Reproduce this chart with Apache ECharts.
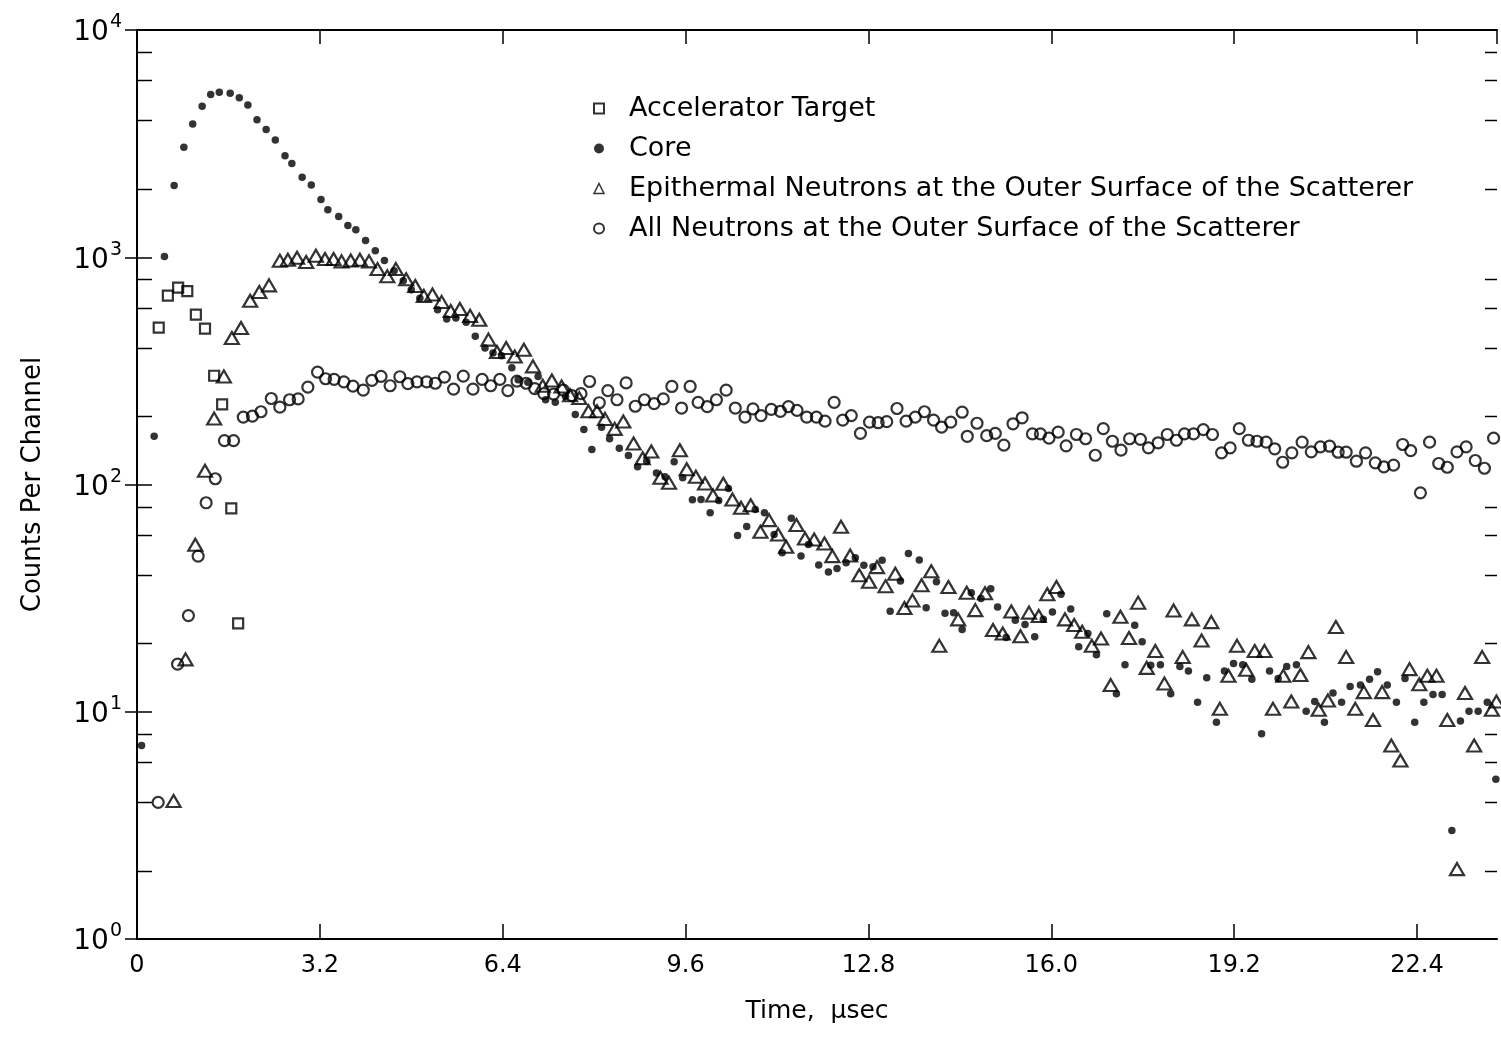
<!DOCTYPE html>
<html>
<head>
<meta charset="utf-8">
<script src="https://cdn.jsdelivr.net/npm/echarts@6/dist/echarts.min.js"></script>
<style>
  html, body { margin: 0; padding: 0; background: #fff; }
  #chart { width: 1501px; height: 1043px; }
</style>
</head>
<body>
<div id="chart"></div>
<script>
// time in usec, counts per channel
var targetData = [
  [0.38, 490], [0.54, 678], [0.72, 735], [0.88, 710], [1.03, 559], [1.19, 485],
  [1.35, 301], [1.49, 225], [1.65, 78.5], [1.77, 24.5]
];

var coreData = [
  [0.08, 7.1], [0.30, 163], [0.48, 1008], [0.65, 2070], [0.82, 3050], [0.975, 3860],
  [1.14, 4620], [1.29, 5200], [1.44, 5320], [1.63, 5270], [1.79, 5030], [1.94, 4680],
  [2.10, 4030], [2.26, 3650], [2.42, 3280], [2.59, 2800], [2.71, 2585], [2.89, 2250],
  [3.05, 2080], [3.22, 1795], [3.34, 1618], [3.53, 1512], [3.69, 1380], [3.83, 1321],
  [4.00, 1186], [4.17, 1069], [4.33, 968], [4.50, 873], [4.66, 788], [4.80, 720],
  [4.95, 660], [5.26, 588], [5.42, 535], [5.58, 540], [5.76, 517], [5.92, 449],
  [6.09, 399], [6.23, 379], [6.38, 369], [6.56, 326], [6.67, 289], [6.84, 282],
  [7.02, 299], [7.15, 236], [7.32, 230], [7.50, 244], [7.67, 203], [7.82, 174.5],
  [7.96, 142.5], [8.13, 178.6], [8.27, 158.9], [8.44, 144.4], [8.60, 134.1], [8.76, 119.6],
  [8.92, 126.6], [9.09, 112.5], [9.24, 108.1], [9.40, 125.9], [9.55, 107], [9.72, 85.7],
  [9.87, 85.8], [10.03, 75.1], [10.18, 85.1], [10.35, 96], [10.51, 59.7], [10.67, 65.4],
  [10.82, 77.7], [10.98, 75.1], [11.15, 60.3], [11.29, 50.1], [11.45, 71.1], [11.62, 48.4],
  [11.75, 54.5], [11.93, 44.2], [12.10, 41.2], [12.25, 42.7], [12.41, 45.3], [12.57, 47.6],
  [12.72, 44.1], [12.88, 43.5], [13.04, 46.4], [13.18, 27.7], [13.36, 37.6], [13.50, 49.7],
  [13.69, 46.5], [13.81, 28.7], [13.99, 37.3], [14.14, 27.1], [14.29, 27.3], [14.44, 23],
  [14.60, 33.4], [14.77, 31.5], [14.94, 34.8], [15.06, 28.9], [15.21, 21.2], [15.37, 25.3],
  [15.54, 24.2], [15.71, 21.4], [15.86, 25.5], [16.02, 27.5], [16.17, 32.9], [16.34, 28.3],
  [16.48, 19.3], [16.64, 22.1], [16.79, 17.8], [16.97, 27], [17.14, 12], [17.29, 16.1],
  [17.46, 24], [17.59, 20.3], [17.74, 16], [17.91, 16.1], [18.09, 12], [18.25, 15.8],
  [18.40, 15.1], [18.56, 11], [18.72, 14.1], [18.89, 9], [19.03, 15.1], [19.19, 16.3],
  [19.35, 16.1], [19.51, 13.9], [19.68, 8], [19.82, 15.1], [19.97, 14], [20.12, 15.8],
  [20.29, 16.1], [20.46, 10.05], [20.61, 11.1], [20.78, 9], [20.93, 12.1], [21.08, 11],
  [21.23, 12.9], [21.41, 13.1], [21.57, 13.9], [21.71, 15], [21.88, 13.1], [22.04, 11],
  [22.19, 14], [22.36, 9], [22.52, 11], [22.68, 11.9], [22.84, 11.9], [23.01, 3],
  [23.16, 9.1], [23.31, 10.05], [23.47, 10.05], [23.63, 11], [23.78, 5.05]
];

var epithermalData = [
  [0.64, 4.05], [0.85, 17], [1.02, 54.3], [1.19, 115], [1.35, 195], [1.52, 299],
  [1.66, 441], [1.82, 488], [1.98, 644], [2.14, 703], [2.31, 752], [2.50, 966],
  [2.64, 975], [2.80, 995], [2.96, 953], [3.13, 1015], [3.29, 983], [3.44, 983],
  [3.58, 959], [3.74, 968], [3.90, 975], [4.06, 959], [4.21, 887], [4.38, 824],
  [4.53, 887], [4.71, 800], [4.87, 747], [5.02, 676], [5.17, 686], [5.33, 636],
  [5.49, 580], [5.65, 592], [5.83, 552], [5.99, 531], [6.15, 434], [6.30, 383],
  [6.46, 399], [6.61, 366], [6.77, 392], [6.93, 331], [7.10, 272], [7.26, 287],
  [7.43, 270], [7.58, 247], [7.74, 240], [7.90, 210], [8.05, 210], [8.19, 194.4],
  [8.36, 175.7], [8.51, 189.2], [8.69, 151.4], [8.85, 130.5], [9.00, 139.7], [9.16, 107],
  [9.31, 101.7], [9.50, 141.4], [9.62, 116.8], [9.78, 108.1], [9.94, 101], [10.08, 89.5],
  [10.26, 100.7], [10.42, 85.9], [10.57, 79], [10.74, 81.1], [10.91, 61.9], [11.06, 69.7],
  [11.22, 60.3], [11.36, 53.2], [11.54, 66.3], [11.69, 57.9], [11.85, 57.3], [12.03, 55],
  [12.17, 48.4], [12.32, 65.2], [12.48, 48.7], [12.64, 39.9], [12.81, 37.3], [12.95, 43.3],
  [13.10, 35.7], [13.27, 40.5], [13.43, 28.6], [13.57, 30.9], [13.73, 36], [13.90, 41.5],
  [14.04, 19.5], [14.20, 35.4], [14.37, 25.5], [14.52, 33.4], [14.67, 28], [14.84, 33.2],
  [14.98, 22.9], [15.15, 22.1], [15.30, 27.6], [15.46, 21.5], [15.61, 27.3], [15.78, 26.4],
  [15.93, 32.9], [16.09, 35.4], [16.24, 25.5], [16.40, 24.1], [16.54, 22.5], [16.71, 19.5],
  [16.87, 21], [17.04, 13.1], [17.21, 26.2], [17.36, 21.1], [17.52, 30.2], [17.67, 15.6],
  [17.82, 18.5], [17.98, 13.3], [18.14, 27.9], [18.30, 17.4], [18.46, 25.5], [18.63, 20.6],
  [18.80, 24.8], [18.95, 10.3], [19.10, 14.4], [19.25, 19.5], [19.41, 15.3], [19.56, 18.5],
  [19.73, 18.5], [19.88, 10.3], [20.06, 14.4], [20.20, 11.1], [20.36, 14.5], [20.50, 18.3],
  [20.68, 10.2], [20.84, 11.2], [20.98, 23.6], [21.16, 17.4], [21.32, 10.3], [21.47, 12.2],
  [21.63, 9.2], [21.79, 12.2], [21.95, 7.1], [22.11, 6.1], [22.27, 15.4], [22.44, 13.2],
  [22.58, 14.4], [22.74, 14.4], [22.93, 9.2], [23.10, 2.03], [23.24, 12.1], [23.40, 7.1],
  [23.54, 17.4], [23.71, 10.2], [23.79, 11.1]
];

var allNeutronData = [
  [0.37, 3.99], [0.71, 16.2], [0.90, 26.5], [1.07, 48.4], [1.21, 83.1], [1.37, 106],
  [1.53, 156], [1.69, 156], [1.86, 198], [2.02, 200], [2.17, 209], [2.35, 239],
  [2.50, 219], [2.67, 236], [2.82, 238], [2.99, 268], [3.16, 312], [3.30, 292],
  [3.45, 290], [3.62, 283], [3.78, 271], [3.96, 260], [4.11, 287], [4.27, 299],
  [4.43, 272], [4.60, 298], [4.74, 278], [4.90, 283], [5.07, 283], [5.22, 279],
  [5.38, 297], [5.54, 263], [5.71, 300], [5.88, 263], [6.04, 290], [6.19, 272],
  [6.35, 290], [6.49, 259], [6.65, 285], [6.81, 279], [6.96, 264], [7.12, 251],
  [7.29, 250], [7.46, 260], [7.61, 246], [7.77, 251], [7.92, 284], [8.09, 229],
  [8.24, 259], [8.40, 236], [8.56, 280], [8.72, 221], [8.88, 236], [9.05, 227],
  [9.21, 238], [9.36, 270], [9.53, 217], [9.68, 270], [9.82, 230], [9.98, 220],
  [10.14, 236], [10.31, 260], [10.47, 217], [10.64, 198], [10.78, 215], [10.92, 201],
  [11.10, 214], [11.26, 210], [11.40, 220], [11.55, 212], [11.72, 198], [11.89, 198],
  [12.04, 190], [12.20, 230], [12.35, 192], [12.50, 201], [12.66, 168], [12.82, 188],
  [12.97, 187], [13.12, 189], [13.30, 216], [13.46, 190], [13.62, 198], [13.78, 209],
  [13.94, 192], [14.08, 179], [14.24, 188], [14.44, 208], [14.53, 163], [14.70, 186],
  [14.87, 164], [15.02, 168], [15.17, 149], [15.33, 185], [15.49, 196.6], [15.67, 167],
  [15.81, 167], [15.96, 160], [16.12, 170], [16.26, 148], [16.44, 166], [16.60, 159],
  [16.77, 134.5], [16.91, 176], [17.07, 155], [17.22, 141.6], [17.37, 159], [17.56, 158],
  [17.70, 145], [17.87, 152.6], [18.03, 166], [18.19, 156.6], [18.33, 167], [18.49, 167],
  [18.66, 174.5], [18.82, 166], [18.98, 137.8], [19.13, 145], [19.29, 176], [19.45, 156.6],
  [19.60, 155], [19.76, 153.5], [19.91, 143.6], [20.05, 125.3], [20.21, 137.8], [20.39, 153.5],
  [20.55, 139.2], [20.71, 146.5], [20.87, 147.4], [21.02, 138.7], [21.16, 138.7], [21.34, 126.6],
  [21.50, 137.8], [21.67, 124.5], [21.82, 119.6], [21.99, 121.6], [22.15, 150], [22.29, 141],
  [22.46, 91.9], [22.62, 153.5], [22.78, 123.7], [22.93, 119.1], [23.10, 139.2], [23.26, 146.5],
  [23.42, 127.5], [23.58, 117.9], [23.74, 160]
];

var seriesNames = [
  'Accelerator Target',
  'Core',
  'Epithermal Neutrons at the Outer Surface of the Scatterer',
  'All Neutrons at the Outer Surface of the Scatterer'
];
var xMin = 0, xMax = 23.8, xStep = 3.2;
var yMin = 1, yMax = 10000;
var minorSteps = [2, 4, 6, 8];

var FONT = '"DejaVu Sans"';
var chart = echarts.init(document.getElementById('chart'));

var openStyle = { color: 'rgba(255,255,255,0)', borderColor: '#000', borderWidth: 2.2 };

chart.setOption({
  animation: false,
  backgroundColor: '#fff',
  textStyle: { fontFamily: FONT, color: '#000' },
  grid: { left: 137, right: 4, top: 30, bottom: 104 },
  legend: {
    orient: 'vertical',
    left: 588,
    top: 88,
    itemWidth: 10,
    itemHeight: 10,
    itemGap: 9,
    selectedMode: false,
    textStyle: { fontSize: 27, fontFamily: FONT, color: '#000', lineHeight: 31, padding: [0, 0, 0, 20] },
    data: [
      { name: seriesNames[0], icon: 'rect', itemStyle: { color: '#fff', borderColor: '#000', borderWidth: 2 } },
      { name: seriesNames[1], icon: 'circle', itemStyle: { color: '#000', borderWidth: 0 } },
      { name: seriesNames[2], icon: 'triangle', itemStyle: { color: '#fff', borderColor: '#000', borderWidth: 1.5 } },
      { name: seriesNames[3], icon: 'circle', itemStyle: { color: '#fff', borderColor: '#000', borderWidth: 2 } }
    ]
  },
  xAxis: [{
    type: 'value',
    min: xMin, max: xMax, interval: xStep,
    name: 'Time,  \u00b5sec',
    nameLocation: 'middle',
    nameGap: 60,
    nameTextStyle: { fontSize: 25, fontFamily: FONT, color: '#000' },
    axisLine: { lineStyle: { color: '#000', width: 2 } },
    axisTick: { inside: true, length: 15, lineStyle: { color: '#000', width: 1.5 } },
    axisLabel: {
      fontSize: 24, color: '#000', margin: 15, showMaxLabel: false,
      formatter: function (v) { return v === 0 ? '0' : v.toFixed(1); }
    },
    splitLine: { show: false }
  }, {
    type: 'value',
    position: 'top',
    min: xMin, max: xMax, interval: xStep,
    axisLine: { lineStyle: { color: '#000', width: 2 } },
    axisTick: { inside: true, length: 14, lineStyle: { color: '#000', width: 1.5 } },
    axisLabel: { show: false },
    splitLine: { show: false }
  }],
  yAxis: [{
    type: 'log',
    logBase: 10,
    min: yMin, max: yMax,
    name: 'Counts Per Channel',
    nameLocation: 'middle',
    nameGap: 91,
    nameTextStyle: { fontSize: 26, fontFamily: FONT, color: '#000' },
    axisLine: { lineStyle: { color: '#000', width: 2 } },
    axisTick: { inside: true, length: 15, lineStyle: { color: '#000', width: 1.5 } },
    axisLabel: {
      margin: 15,
      formatter: function (v) { return '{b|10}{s|' + Math.round(Math.log10(v)) + '}'; },
      rich: {
        b: { fontSize: 28, fontFamily: FONT, color: '#000', verticalAlign: 'bottom' },
        s: { fontSize: 19, fontFamily: FONT, color: '#000', verticalAlign: 'bottom', padding: [0, 0, 15, 1] }
      }
    },
    splitLine: { show: false }
  }, {
    type: 'log',
    logBase: 10,
    position: 'right',
    min: yMin, max: yMax,
    axisLine: { lineStyle: { color: '#000', width: 2 } },
    axisTick: { inside: true, length: 12, lineStyle: { color: '#000', width: 1.5 } },
    axisLabel: { show: false },
    splitLine: { show: false }
  }],
  series: [{
    name: seriesNames[0],
    type: 'scatter',
    symbol: 'rect',
    symbolSize: 10,
    itemStyle: openStyle,
    data: targetData
  }, {
    name: seriesNames[1],
    type: 'scatter',
    symbol: 'circle',
    symbolSize: 7.5,
    itemStyle: { color: '#000' },
    data: coreData
  }, {
    name: seriesNames[2],
    type: 'scatter',
    symbol: 'triangle',
    symbolSize: [14, 12],
    itemStyle: openStyle,
    data: epithermalData
  }, {
    name: seriesNames[3],
    type: 'scatter',
    symbol: 'circle',
    symbolSize: 11,
    itemStyle: openStyle,
    data: allNeutronData
  }]
});

// minor ticks at 2,4,6,8 per decade on both log axes
function minorTicks() {
  var xl = chart.convertToPixel({ xAxisIndex: 0 }, xMin);
  var xr = chart.convertToPixel({ xAxisIndex: 0 }, xMax);
  var els = [];
  for (var d = yMin; d < yMax; d *= 10) {
    minorSteps.forEach(function (m) {
      var y = Math.round(chart.convertToPixel({ yAxisIndex: 0 }, d * m)) + 0.5;
      els.push({ type: 'line', shape: { x1: xl, y1: y, x2: xl + 15, y2: y }, style: { stroke: '#000', lineWidth: 1.5 } });
      els.push({ type: 'line', shape: { x1: xr - 12, y1: y, x2: xr, y2: y }, style: { stroke: '#000', lineWidth: 1.5 } });
    });
  }
  chart.setOption({ graphic: els });
}
minorTicks();
</script>
</body>
</html>
